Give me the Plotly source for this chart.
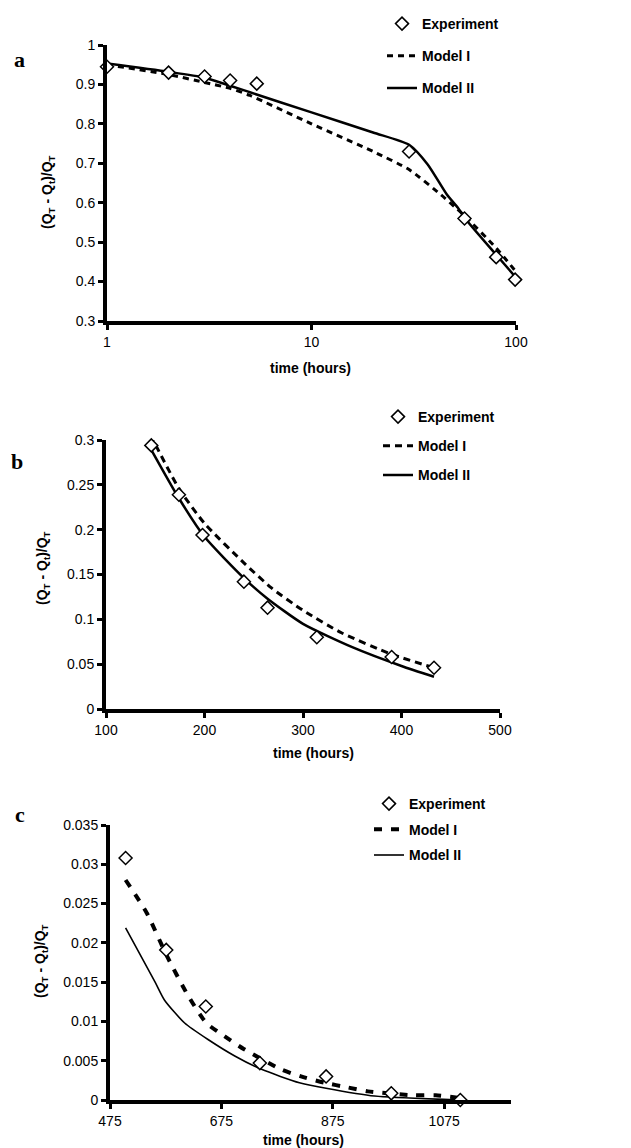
import plotly.graph_objects as go

# ---------------- data ----------------
# Panel a (log time axis)
a_exp_t = [1, 2, 3, 4, 5.4, 30, 56, 80, 99]
a_exp_y = [0.945, 0.93, 0.92, 0.91, 0.902, 0.73, 0.56, 0.462, 0.405]
a_m1_t = [1, 2, 3, 4, 5, 10, 20, 30, 43, 50, 56, 80, 100]
a_m1_y = [0.95, 0.925, 0.905, 0.89, 0.872, 0.80, 0.73, 0.684, 0.62, 0.59, 0.567, 0.485, 0.425]
a_m2_t = [1, 2, 3, 5, 10, 20, 30, 37, 46, 52, 56, 80, 100]
a_m2_y = [0.953, 0.932, 0.917, 0.88, 0.829, 0.778, 0.747, 0.697, 0.62, 0.587, 0.562, 0.468, 0.41]

# Panel b
b_exp_t = [146, 174, 198, 240, 264, 314, 390, 433]
b_exp_y = [0.294, 0.239, 0.194, 0.142, 0.113, 0.080, 0.058, 0.046]
b_m1_t = [145, 174, 200, 240, 268, 300, 339, 390, 433]
b_m1_y = [0.306, 0.246, 0.207, 0.163, 0.135, 0.11, 0.085, 0.061, 0.046]
b_m2_t = [145, 174, 200, 240, 264, 300, 350, 400, 433]
b_m2_y = [0.291, 0.235, 0.192, 0.146, 0.123, 0.095, 0.069, 0.048, 0.036]

# Panel c
c_exp_t = [503, 576, 647, 744, 863, 980, 1104]
c_exp_y = [0.0308, 0.0191, 0.0119, 0.0047, 0.0030, 0.00085, 0.0]
c_m1_t = [503, 541, 576, 615, 648, 681, 715, 782, 818, 860, 902, 938, 1021, 1060, 1099]
c_m1_y = [0.028, 0.0238, 0.0185, 0.0133, 0.0098, 0.0081, 0.0065, 0.0039, 0.0030,
          0.0022, 0.0016, 0.0011, 0.0006, 0.0006, 0.0003]
c_m2_t = [503, 556, 573, 609, 651, 699, 747, 815, 863, 950, 1104]
c_m2_y = [0.0219, 0.0150, 0.0127, 0.0098, 0.0077, 0.0056, 0.0039, 0.0022, 0.0015, 0.0005, 0.0]

names = ["Experiment", "Model I", "Model II"]

W, H = 631, 1148
def px(x):
    return x / W
def py(y):
    return 1 - y / H

FONT = "Liberation Sans, Arial, sans-serif"

fig = go.Figure()

panels = [
    dict(xa="x", ya="y", leg="legend", exp=(a_exp_t, a_exp_y), m1=(a_m1_t, a_m1_y), m2=(a_m2_t, a_m2_y),
         dash="6px,5px", dw=3, sw=2.5),
    dict(xa="x2", ya="y2", leg="legend2", exp=(b_exp_t, b_exp_y), m1=(b_m1_t, b_m1_y), m2=(b_m2_t, b_m2_y),
         dash="7px,5px", dw=3, sw=2.5),
    dict(xa="x3", ya="y3", leg="legend3", exp=(c_exp_t, c_exp_y), m1=(c_m1_t, c_m1_y), m2=(c_m2_t, c_m2_y),
         dash="8px,9px", dw=4, sw=1.6),
]

for i, p in enumerate(panels):
    fig.add_trace(go.Scatter(x=p["m1"][0], y=p["m1"][1], mode="lines", name=names[1],
                             line=dict(color="black", width=p["dw"], dash=p["dash"], shape="spline", smoothing=0.6),
                             xaxis=p["xa"], yaxis=p["ya"], legend=p["leg"], legendgroup=f"m1{i}",
                             legendrank=2, cliponaxis=False))
    fig.add_trace(go.Scatter(x=p["m2"][0], y=p["m2"][1], mode="lines", name=names[2],
                             line=dict(color="black", width=p["sw"], shape="spline", smoothing=0.6),
                             xaxis=p["xa"], yaxis=p["ya"], legend=p["leg"], legendgroup=f"m2{i}",
                             legendrank=3, cliponaxis=False))
    fig.add_trace(go.Scatter(x=p["exp"][0], y=p["exp"][1], mode="markers", name=names[0],
                             marker=dict(symbol="diamond", size=10, color="white",
                                         line=dict(color="black", width=1.5)),
                             xaxis=p["xa"], yaxis=p["ya"], legend=p["leg"], legendgroup=f"ex{i}",
                             legendrank=1, cliponaxis=False))

axis_common = dict(showgrid=False, zeroline=False, showline=True, linecolor="black", linewidth=4,
                   ticks="outside", ticklen=5, tickwidth=3, tickcolor="black", mirror=False,
                   tickfont=dict(family=FONT, size=14, color="black"), automargin=False)

fig.update_layout(
    width=W, height=H, margin=dict(l=0, r=0, t=0, b=0),
    paper_bgcolor="white", plot_bgcolor="white", showlegend=True,
    xaxis=dict(axis_common, type="log", range=[0, 2], dtick=1, domain=[px(99), px(508)], anchor="y"),
    yaxis=dict(axis_common, range=[0.3, 1.0], dtick=0.1, domain=[py(313), py(37)], anchor="x"),
    xaxis2=dict(axis_common, range=[100, 500], dtick=100, domain=[px(98), px(492)], anchor="y2"),
    yaxis2=dict(axis_common, range=[0, 0.3], dtick=0.05, domain=[py(701), py(432)], anchor="x2"),
    xaxis3=dict(axis_common, range=[475, 1195], tick0=475, dtick=200, domain=[px(102), px(503)], anchor="y3"),
    yaxis3=dict(axis_common, range=[0, 0.035], dtick=0.005, domain=[py(1092), py(817)], anchor="x3"),
)

leg_common = dict(xanchor="left", yanchor="top", bgcolor="rgba(0,0,0,0)", borderwidth=0,
                  font=dict(family=FONT, size=14, color="black", weight="bold"),
                  traceorder="grouped")
fig.update_layout(
    legend=dict(leg_common, x=px(374), y=1.0, tracegroupgap=11),
    legend2=dict(leg_common, x=px(370), y=py(393), tracegroupgap=8),
    legend3=dict(leg_common, x=px(361), y=py(780), tracegroupgap=4.5),
)

# axis titles and panel labels
ytitle = "(Q<sub>T</sub> - Q<sub>t</sub>)/Q<sub>T</sub>"
annos = []
for (xc, yc) in [(40, 184), (35, 560), (33, 953)]:
    annos.append(dict(text=ytitle, x=px(xc), y=py(yc), xref="paper", yref="paper", showarrow=False,
                      textangle=-90, xanchor="center", yanchor="middle",
                      font=dict(family=FONT, size=14, color="black", weight="bold")))
for (xc, yc) in [(302, 360), (305, 745), (295, 1132)]:
    annos.append(dict(text="time (hours)", x=px(xc), y=py(yc), xref="paper", yref="paper", showarrow=False,
                      xanchor="center", yanchor="middle",
                      font=dict(family=FONT, size=14, color="black", weight="bold")))
for (lbl, xc, yc) in [("a", 11, 51), ("b", 9, 453), ("c", 12, 806)]:
    annos.append(dict(text=lbl, x=px(xc), y=py(yc), xref="paper", yref="paper", showarrow=False,
                      xanchor="center", yanchor="middle",
                      font=dict(family="Liberation Serif, Times New Roman, serif", size=22, color="black",
                                weight="bold")))
fig.update_layout(annotations=annos)

fig.write_html("out.html")
